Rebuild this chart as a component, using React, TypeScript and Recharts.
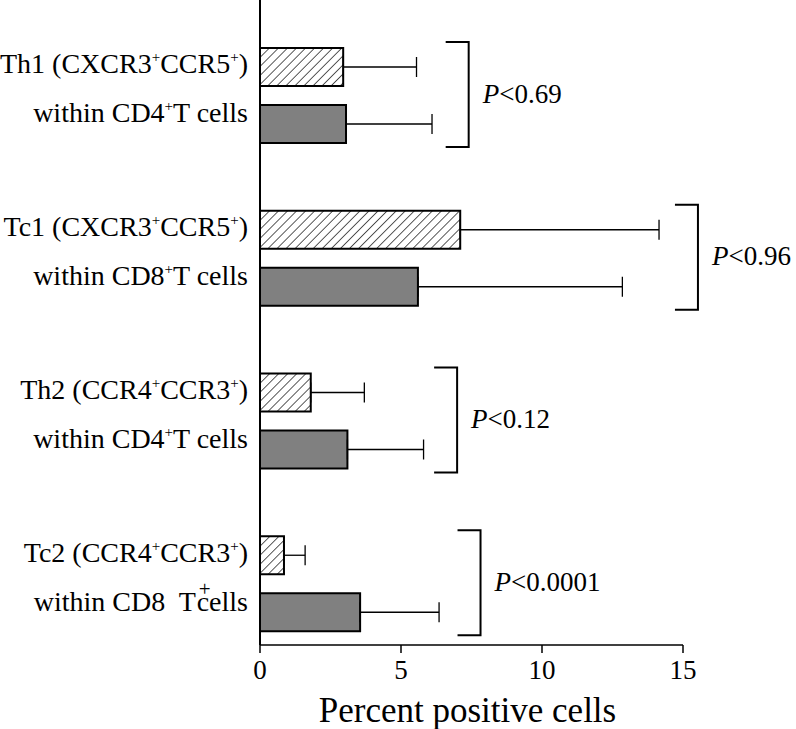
import React from "react";
import { BarChart, Bar, XAxis, YAxis, ErrorBar, Label } from "recharts";

// rows, top to bottom
const groups = ["Th1", "Tc1", "Th2", "Tc2"];
const labelLine1 = ["Th1 (CXCR3^+CCR5^+)", "Tc1 (CXCR3^+CCR5^+)", "Th2 (CCR4^+CCR3^+)", "Tc2 (CCR4^+CCR3^+)"];
const labelLine2 = ["within CD4^+T cells", "within CD8^+T cells", "within CD4^+T cells", "within CD8  T~+cells"];

// percent positive cells, hatched vs solid, with one-sided error
const hatchedValues = [2.95, 7.1, 1.8, 0.85];
const hatchedErrors = [2.6, 7.05, 1.9, 0.75];
const solidValues = [3.05, 5.6, 3.1, 3.55];
const solidErrors = [3.05, 7.25, 2.7, 2.8];

// bracket position (x units) and p value per group
const bracketX = [7.4, 15.53, 6.99, 7.82];
const pValues = ["0.69", "0.96", "0.12", "0.0001"];

const xTicks = [0, 5, 10, 15];

const FONT = "Liberation Serif";
const BAR_SIZE = 38;
const BAR_GAP = 19;

const data = groups.map((g, i) => ({
    name: g,
    hatched: hatchedValues[i],
    solid: solidValues[i],
    hatchedErr: [0, hatchedErrors[i]],
    solidErr: [0, solidErrors[i]],
}));

// turns "CD4^+T" into tspans with a small raised plus ("~+" = big plus over next letter)
function renderRich(str: string) {
    const out: React.ReactNode[] = [];
    let rest = str;
    let k = 0;
    let lift = 0;
    let back = 0;
    while (rest.length) {
        const a = rest.indexOf("^+");
        const b = rest.indexOf("~+");
        let idx = -1;
        let kind = "";
        if (a >= 0 && (b < 0 || a < b)) { idx = a; kind = "^"; }
        else if (b >= 0) { idx = b; kind = "~"; }
        const chunk = idx < 0 ? rest : rest.slice(0, idx);
        if (chunk) {
            out.push(
                <tspan key={k++} dx={back} dy={lift} style={{ whiteSpace: "pre" }}>
                    {chunk}
                </tspan>
            );
            lift = 0;
            back = 0;
        }
        if (idx < 0) break;
        if (kind === "^") {
            out.push(<tspan key={k++} fontSize={15} dy={-11}>+</tspan>);
            lift = 11;
        } else {
            out.push(<tspan key={k++} fontSize={21} dx={3} dy={-15}>+</tspan>);
            lift = 15;
            back = -14;
        }
        rest = rest.slice(idx + 2);
    }
    return out;
}

const CategoryTick = (props: any) => {
    const { x, y, index } = props;
    return (
        <g>
            <text x={x} y={y - 22} textAnchor="end" fontSize={28} fontFamily={FONT} fill="#000">
                {renderRich(labelLine1[index])}
            </text>
            <text x={x} y={y + 27} textAnchor="end" fontSize={28} fontFamily={FONT} fill="#000">
                {renderRich(labelLine2[index])}
            </text>
        </g>
    );
};

// bracket + p value, hung off the solid bar so it follows the bar scale
const renderBracket = (props: any) => {
    const vb = props.viewBox ?? props;
    const { index } = props;
    const value = solidValues[index];
    const pxPerUnit = vb.width / value;
    const bx = vb.x + bracketX[index] * pxPerUnit;
    const top = vb.y - BAR_GAP - BAR_SIZE - 6;
    const bottom = vb.y + vb.height + 4;
    const mid = vb.y - BAR_GAP / 2;
    return (
        <g>
            <path
                d={`M${bx - 23},${top} H${bx} V${bottom} H${bx - 23}`}
                fill="none"
                stroke="#000"
                strokeWidth={2}
            />
            <text x={bx + 14} y={mid + 7} fontSize={27} fontFamily={FONT} fill="#000">
                <tspan fontStyle="italic">P</tspan>
                <tspan>{"<" + pValues[index]}</tspan>
            </text>
        </g>
    );
};

export default function App() {
    return (
        <div style={{ position: "absolute", left: 0, top: 0, background: "#fff" }}>
            <BarChart
                width={796}
                height={729}
                data={data}
                layout="vertical"
                margin={{ top: 0, right: 113, bottom: 0, left: 0 }}
                barSize={BAR_SIZE}
                barGap={BAR_GAP}
            >
                <defs>
                    <pattern
                        id="hatch"
                        patternUnits="userSpaceOnUse"
                        width={6.4}
                        height={6.4}
                        patternTransform="rotate(45)"
                    >
                        <rect width={6.4} height={6.4} fill="#fff" />
                        <line x1={0} y1={0} x2={0} y2={6.4} stroke="#000" strokeWidth={1.3} />
                    </pattern>
                </defs>
                <XAxis
                    type="number"
                    domain={[0, 15]}
                    ticks={xTicks}
                    height={84}
                    tickSize={8}
                    tickMargin={7}
                    axisLine={{ stroke: "#000", strokeWidth: 1.5 }}
                    tickLine={{ stroke: "#000", strokeWidth: 1.5 }}
                    tick={{ fill: "#000", fontSize: 27, fontFamily: FONT }}
                >
                    <Label
                        content={(p: any) => {
                            const vb = p.viewBox;
                            return (
                                <text
                                    x={vb.x + vb.width / 2 - 4}
                                    y={722}
                                    textAnchor="middle"
                                    fontSize={35}
                                    fontFamily={FONT}
                                    fill="#000"
                                >
                                    Percent positive cells
                                </text>
                            );
                        }}
                    />
                </XAxis>
                <YAxis
                    type="category"
                    dataKey="name"
                    width={260}
                    padding={{ top: 14, bottom: -20 }}
                    axisLine={{ stroke: "#000", strokeWidth: 2 }}
                    tickLine={false}
                    tickSize={6}
                    tickMargin={6}
                    tick={<CategoryTick />}
                />
                <Bar
                    dataKey="hatched"
                    fill="url(#hatch)"
                    stroke="#000"
                    strokeWidth={2}
                    isAnimationActive={false}
                >
                    <ErrorBar dataKey="hatchedErr" direction="x" width={10} stroke="#000" strokeWidth={1.3} />
                </Bar>
                <Bar
                    dataKey="solid"
                    fill="#808080"
                    stroke="#000"
                    strokeWidth={2}
                    isAnimationActive={false}
                    label={renderBracket}
                >
                    <ErrorBar dataKey="solidErr" direction="x" width={10} stroke="#000" strokeWidth={1.3} />
                </Bar>
            </BarChart>
        </div>
    );
}
